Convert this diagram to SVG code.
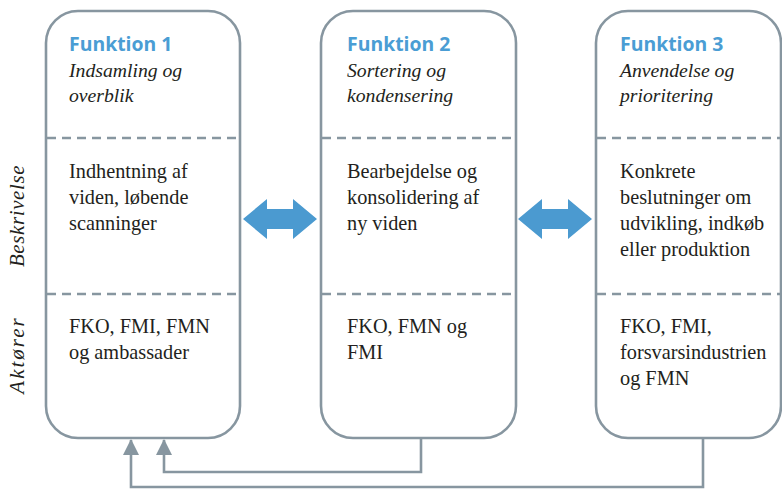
<svg xmlns="http://www.w3.org/2000/svg" width="782" height="489" viewBox="0 0 782 489">
  <style>
    .box { fill: #ffffff; stroke: #8796a0; stroke-width: 2.6; }
    .sep { stroke: #8796a0; stroke-width: 2.4; stroke-dasharray: 9 6; fill: none; }
    .title { font-family: "Open Sans", "Noto Sans", sans-serif; font-weight: 700; font-size: 19.4px; fill: #4a9dd4; }
    .sub { font-family: "Liberation Serif", serif; font-style: italic; font-size: 19.7px; fill: #231f20; }
    .body { font-family: "Liberation Serif", serif; font-size: 20.3px; fill: #231f20; }
    .side { font-family: "Liberation Serif", serif; font-style: italic; font-size: 21px; fill: #231f20; letter-spacing: 0.6px; }
    .wide { letter-spacing: 2px; }
    .link { fill: none; stroke: #8796a0; stroke-width: 2.6; }
    .dbl { fill: #4b9ad0; }
  </style>
  <defs>
    <marker id="head" markerUnits="userSpaceOnUse" markerWidth="16" markerHeight="16" viewBox="0 0 16 16" refX="15" refY="8" orient="auto">
      <path d="M0,0 L16,8 L0,16 Z" fill="#8796a0"/>
    </marker>
  </defs>

  <rect width="782" height="489" fill="#ffffff"/>

  <!-- row labels -->
  <text class="side" transform="translate(24,216) rotate(-90)" text-anchor="middle">Beskrivelse</text>
  <text class="side wide" transform="translate(24,355) rotate(-90)" text-anchor="middle">Aktører</text>

  <!-- function 1 -->
  <g id="funktion1">
    <rect class="box" x="46" y="11" width="194" height="427" rx="32"/>
    <line class="sep" x1="47" y1="138" x2="239" y2="138"/>
    <line class="sep" x1="47" y1="294" x2="239" y2="294"/>
    <text class="title" x="69" y="51">Funktion 1</text>
    <text class="sub" x="69" y="77">Indsamling og</text>
    <text class="sub" x="69" y="102">overblik</text>
    <text class="body" x="69" y="178">Indhentning af</text>
    <text class="body" x="69" y="204">viden, løbende</text>
    <text class="body" x="69" y="230">scanninger</text>
    <text class="body" x="69" y="333">FKO, FMI, FMN</text>
    <text class="body" x="69" y="359">og ambassader</text>
  </g>

  <!-- function 2 -->
  <g id="funktion2">
    <rect class="box" x="321" y="11" width="195" height="427" rx="32"/>
    <line class="sep" x1="322" y1="138" x2="515" y2="138"/>
    <line class="sep" x1="322" y1="294" x2="515" y2="294"/>
    <text class="title" x="347" y="51">Funktion 2</text>
    <text class="sub" x="347" y="77">Sortering og</text>
    <text class="sub" x="347" y="102">kondensering</text>
    <text class="body" x="347" y="178">Bearbejdelse og</text>
    <text class="body" x="347" y="204">konsolidering af</text>
    <text class="body" x="347" y="230">ny viden</text>
    <text class="body" x="347" y="333">FKO, FMN og</text>
    <text class="body" x="347" y="359">FMI</text>
  </g>

  <!-- function 3 -->
  <g id="funktion3">
    <rect class="box" x="596" y="11" width="185" height="427" rx="32"/>
    <line class="sep" x1="597" y1="138" x2="780" y2="138"/>
    <line class="sep" x1="597" y1="294" x2="780" y2="294"/>
    <text class="title" x="620" y="51">Funktion 3</text>
    <text class="sub" x="620" y="77">Anvendelse og</text>
    <text class="sub" x="620" y="102">prioritering</text>
    <text class="body" x="620" y="178">Konkrete</text>
    <text class="body" x="620" y="204">beslutninger om</text>
    <text class="body" x="620" y="230">udvikling, indkøb</text>
    <text class="body" x="620" y="256">eller produktion</text>
    <text class="body" x="620" y="333">FKO, FMI,</text>
    <text class="body" x="620" y="359">forsvarsindustrien</text>
    <text class="body" x="620" y="385">og FMN</text>
  </g>

  <!-- connectors -->
  <g id="connectors">
    <polygon class="dbl" points="243,219 267,199 267,209 293,209 293,199 317,219 293,239 293,229 267,229 267,239"/>
    <polygon class="dbl" points="518,219 542,199 542,209 568,209 568,199 592,219 568,239 568,229 542,229 542,239"/>
    <polyline class="link" points="421,439 421,472 164,472 164,440" marker-end="url(#head)"/>
    <polyline class="link" points="703,439 703,487 131,487 131,440" marker-end="url(#head)"/>
  </g>
</svg>
